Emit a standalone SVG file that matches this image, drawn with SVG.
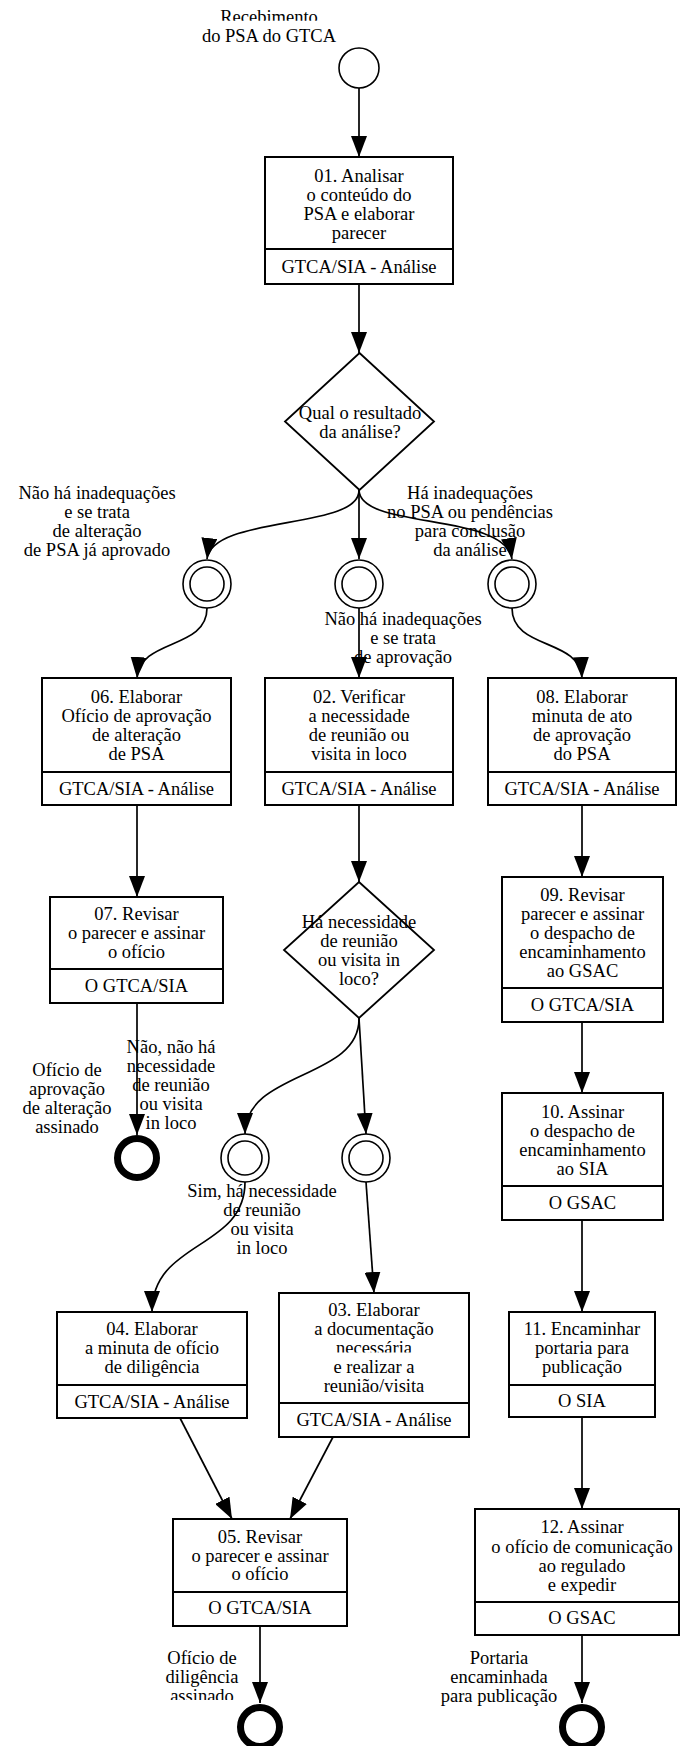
<svg xmlns="http://www.w3.org/2000/svg" width="680" height="1746" viewBox="0 0 680 1746">
<style>
text{font-family:"Liberation Serif","Times New Roman",serif;font-size:18.5px;text-anchor:middle;fill:#000}
.box{fill:#fff;stroke:#000;stroke-width:2}
.div{stroke:#000;stroke-width:2}
.ev{fill:#fff;stroke:#000;stroke-width:1.6}
.end{fill:#fff;stroke:#000;stroke-width:7}
.gw{fill:#fff;stroke:#000;stroke-width:1.8}
.c{fill:none;stroke:#000;stroke-width:1.7;marker-end:url(#ah)}
</style>
<defs>
<marker id="ah" markerUnits="userSpaceOnUse" markerWidth="21" markerHeight="16" refX="21" refY="8" orient="auto">
<path d="M0,0 L21,8 L0,16 z" fill="#000"/>
</marker>
<clipPath id="clipRec"><rect x="0" y="0" width="680" height="20.7"/></clipPath>
<clipPath id="clipNec"><rect x="0" y="1300" width="680" height="52.5"/></clipPath>
<clipPath id="clipAss"><rect x="0" y="1680" width="680" height="20"/></clipPath>
</defs>
<rect width="680" height="1746" fill="#fff"/>

<g id="connectors">
<path class="c" d="M359,88 L359,157"/>
<path class="c" d="M359,284 L359,353"/>
<path class="c" d="M359,490 C360,530 212,515 207,559"/>
<path class="c" d="M359,490 L359,559"/>
<path class="c" d="M359,490 C360,530 505,512 512,559"/>
<path class="c" d="M207,608 C207,650 140,638 137,678"/>
<path class="c" d="M359,608 L359,678"/>
<path class="c" d="M512,608 C512,650 580,638 582,678"/>
<path class="c" d="M137,805 L137,897"/>
<path class="c" d="M137,1003 L137,1135"/>
<path class="c" d="M359,805 L359,882"/>
<path class="c" d="M359,1018 C360,1080 245,1070 245,1134"/>
<path class="c" d="M359,1018 L366,1134"/>
<path class="c" d="M245,1182 C245,1250 152,1240 152,1312"/>
<path class="c" d="M366,1182 L374,1293"/>
<path class="c" d="M180,1418 L232,1519"/>
<path class="c" d="M333,1437 L290,1519"/>
<path class="c" d="M260,1626 L260,1703"/>
<path class="c" d="M582,805 L582,877"/>
<path class="c" d="M582,1022 L582,1093"/>
<path class="c" d="M582,1220 L582,1312"/>
<path class="c" d="M582,1417 L582,1509"/>
<path class="c" d="M582,1635 L582,1703"/>
</g>

<g id="labels">
<text x="97" y="499">Não há inadequações</text>
<text x="97" y="518">e se trata</text>
<text x="97" y="537">de alteração</text>
<text x="97" y="556">de PSA já aprovado</text>
<text x="470" y="499">Há inadequações</text>
<text x="470" y="518">no PSA ou pendências</text>
<text x="470" y="537">para conclusão</text>
<text x="470" y="556">da análise</text>
<text x="403" y="625">Não há inadequações</text>
<text x="403" y="644">e se trata</text>
<text x="403" y="663">de aprovação</text>
<text x="171" y="1053">Não, não há</text>
<text x="171" y="1072">necessidade</text>
<text x="171" y="1091">de reunião</text>
<text x="171" y="1110">ou visita</text>
<text x="171" y="1129">in loco</text>
<text x="262" y="1197">Sim, há necessidade</text>
<text x="262" y="1216">de reunião</text>
<text x="262" y="1235">ou visita</text>
<text x="262" y="1254">in loco</text>
</g>

<g id="start">
<circle class="ev" cx="359" cy="68" r="20"/>
<text x="269" y="23" clip-path="url(#clipRec)">Recebimento</text>
<text x="269" y="42">do PSA do GTCA</text>
</g>

<g id="task01">
<rect class="box" x="265" y="157" width="188" height="127"/>
<line class="div" x1="265" y1="249" x2="453" y2="249"/>
<text x="359" y="182">01. Analisar</text>
<text x="359" y="201">o conteúdo do</text>
<text x="359" y="220">PSA e elaborar</text>
<text x="359" y="239">parecer</text>
<text x="359" y="273">GTCA/SIA - Análise</text>
</g>

<g id="gateway1">
<polygon class="gw" points="359.5,353 434,421.5 359.5,490 285,421.5"/>
<text x="360" y="419">Qual o resultado</text>
<text x="360" y="438">da análise?</text>
</g>

<g id="int1"><circle class="ev" cx="207" cy="584" r="24"/><circle class="ev" cx="207" cy="584" r="17"/></g>
<g id="int2"><circle class="ev" cx="359" cy="584" r="24"/><circle class="ev" cx="359" cy="584" r="17"/></g>
<g id="int3"><circle class="ev" cx="512" cy="584" r="24"/><circle class="ev" cx="512" cy="584" r="17"/></g>

<g id="task06">
<rect class="box" x="42" y="678" width="189" height="127"/>
<line class="div" x1="42" y1="772" x2="231" y2="772"/>
<text x="136.5" y="703">06. Elaborar</text>
<text x="136.5" y="722">Ofício de aprovação</text>
<text x="136.5" y="741">de alteração</text>
<text x="136.5" y="760">de PSA</text>
<text x="136.5" y="794.5">GTCA/SIA - Análise</text>
</g>

<g id="task02">
<rect class="box" x="265" y="678" width="188" height="127"/>
<line class="div" x1="265" y1="772" x2="453" y2="772"/>
<text x="359" y="703">02. Verificar</text>
<text x="359" y="722">a necessidade</text>
<text x="359" y="741">de reunião ou</text>
<text x="359" y="760">visita in loco</text>
<text x="359" y="794.5">GTCA/SIA - Análise</text>
</g>

<g id="task08">
<rect class="box" x="488" y="678" width="188" height="127"/>
<line class="div" x1="488" y1="772" x2="676" y2="772"/>
<text x="582" y="703">08. Elaborar</text>
<text x="582" y="722">minuta de ato</text>
<text x="582" y="741">de aprovação</text>
<text x="582" y="760">do PSA</text>
<text x="582" y="794.5">GTCA/SIA - Análise</text>
</g>

<g id="task07">
<rect class="box" x="50" y="897" width="173" height="106"/>
<line class="div" x1="50" y1="969" x2="223" y2="969"/>
<text x="136.5" y="920">07. Revisar</text>
<text x="136.5" y="939">o parecer e assinar</text>
<text x="136.5" y="958">o ofício</text>
<text x="136.5" y="992">O GTCA/SIA</text>
</g>

<g id="gateway2">
<polygon class="gw" points="359,882 434,950 359,1018 284,950"/>
<text x="359" y="928">Há necessidade</text>
<text x="359" y="947">de reunião</text>
<text x="359" y="966">ou visita in</text>
<text x="359" y="985">loco?</text>
</g>

<g id="task09">
<rect class="box" x="502" y="877" width="161" height="145"/>
<line class="div" x1="502" y1="988" x2="663" y2="988"/>
<text x="582.5" y="901">09. Revisar</text>
<text x="582.5" y="920">parecer e assinar</text>
<text x="582.5" y="939">o despacho de</text>
<text x="582.5" y="958">encaminhamento</text>
<text x="582.5" y="977">ao GSAC</text>
<text x="582.5" y="1011">O GTCA/SIA</text>
</g>

<g id="end1">
<circle class="end" cx="137" cy="1158" r="19.5"/>
<text x="67" y="1076">Ofício de</text>
<text x="67" y="1095">aprovação</text>
<text x="67" y="1114">de alteração</text>
<text x="67" y="1133">assinado</text>
</g>

<g id="int4"><circle class="ev" cx="245" cy="1158" r="24"/><circle class="ev" cx="245" cy="1158" r="17"/></g>
<g id="int5"><circle class="ev" cx="366" cy="1158" r="24"/><circle class="ev" cx="366" cy="1158" r="17"/></g>

<g id="task10">
<rect class="box" x="502" y="1093" width="161" height="127"/>
<line class="div" x1="502" y1="1186" x2="663" y2="1186"/>
<text x="582.5" y="1118">10. Assinar</text>
<text x="582.5" y="1137">o despacho de</text>
<text x="582.5" y="1156">encaminhamento</text>
<text x="582.5" y="1175">ao SIA</text>
<text x="582.5" y="1209">O GSAC</text>
</g>

<g id="task04">
<rect class="box" x="57" y="1312" width="190" height="106"/>
<line class="div" x1="57" y1="1385" x2="247" y2="1385"/>
<text x="152" y="1335">04. Elaborar</text>
<text x="152" y="1354">a minuta de ofício</text>
<text x="152" y="1373">de diligência</text>
<text x="152" y="1407.5">GTCA/SIA - Análise</text>
</g>

<g id="task03">
<rect class="box" x="279" y="1293" width="190" height="144"/>
<line class="div" x1="279" y1="1403" x2="469" y2="1403"/>
<text x="374" y="1316">03. Elaborar</text>
<text x="374" y="1335">a documentação</text>
<text x="374" y="1354" clip-path="url(#clipNec)">necessária</text>
<text x="374" y="1373">e realizar a</text>
<text x="374" y="1392">reunião/visita</text>
<text x="374" y="1426">GTCA/SIA - Análise</text>
</g>

<g id="task11">
<rect class="box" x="509" y="1312" width="146" height="105"/>
<line class="div" x1="509" y1="1385" x2="655" y2="1385"/>
<text x="582" y="1335">11. Encaminhar</text>
<text x="582" y="1354">portaria para</text>
<text x="582" y="1373">publicação</text>
<text x="582" y="1407">O SIA</text>
</g>

<g id="task05">
<rect class="box" x="173" y="1519" width="174" height="107"/>
<line class="div" x1="173" y1="1592" x2="347" y2="1592"/>
<text x="260" y="1543">05. Revisar</text>
<text x="260" y="1562">o parecer e assinar</text>
<text x="260" y="1580">o ofício</text>
<text x="260" y="1614">O GTCA/SIA</text>
</g>

<g id="task12">
<rect class="box" x="475" y="1509" width="204" height="126"/>
<line class="div" x1="475" y1="1602" x2="679" y2="1602"/>
<text x="582" y="1533">12. Assinar</text>
<text x="582" y="1553">o ofício de comunicação</text>
<text x="582" y="1572">ao regulado</text>
<text x="582" y="1591">e expedir</text>
<text x="582" y="1624">O GSAC</text>
</g>

<g id="end2">
<circle class="end" cx="260" cy="1727" r="19.5"/>
<text x="202" y="1664">Ofício de</text>
<text x="202" y="1683">diligência</text>
<text x="202" y="1702" clip-path="url(#clipAss)">assinado</text>
</g>

<g id="end3">
<circle class="end" cx="582" cy="1727" r="19.5"/>
<text x="499" y="1664">Portaria</text>
<text x="499" y="1683">encaminhada</text>
<text x="499" y="1702">para publicação</text>
</g>
</svg>
